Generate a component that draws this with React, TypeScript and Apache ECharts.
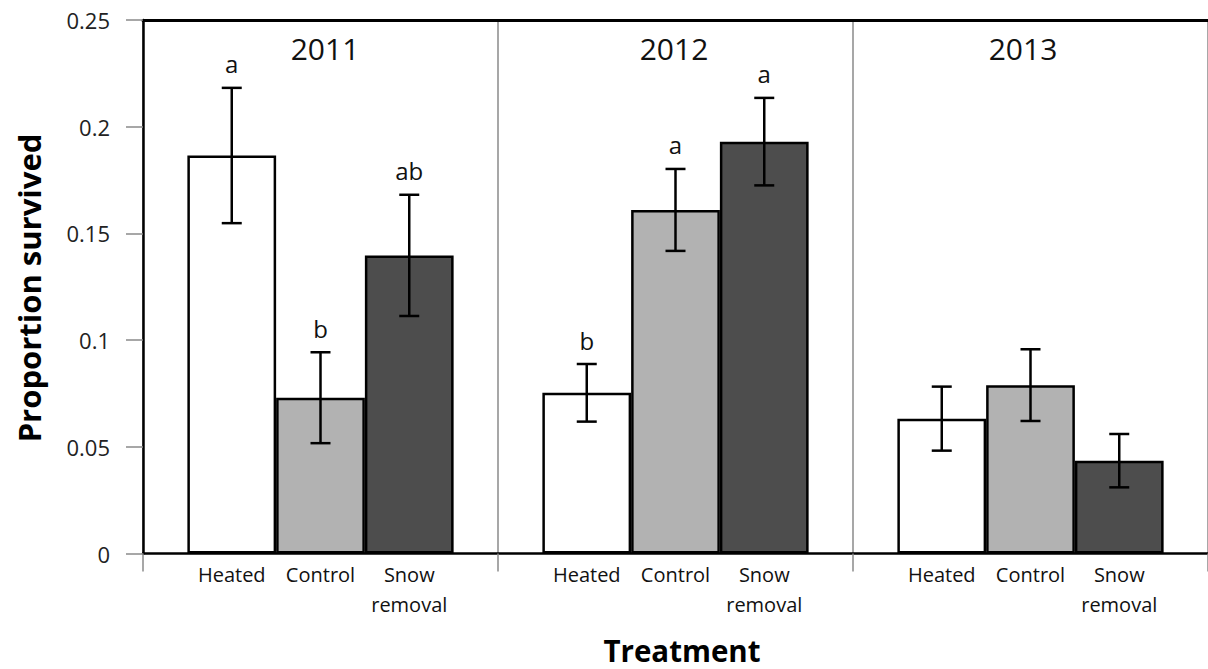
import React, { useEffect, useRef } from "react";
import * as echarts from "echarts";

// Survival by year and treatment (mean ± SE) with significance letters
const years = ["2011", "2012", "2013"];
const treatments = ["Heated", "Control", "Snow removal"];
const treatmentLabels = ["Heated", "Control", "Snow\nremoval"];

const heated = [0.1865, 0.0753, 0.0632];
const control = [0.073, 0.161, 0.0789];
const snowRemoval = [0.1397, 0.193, 0.0435];

const heatedErr = [0.0317, 0.0135, 0.015];
const controlErr = [0.0213, 0.0192, 0.0168];
const snowRemovalErr = [0.0284, 0.0205, 0.0125];

const heatedLetters = ["a", "b", ""];
const controlLetters = ["b", "a", ""];
const snowRemovalLetters = ["ab", "a", ""];

const yTicks = { min: 0, max: 0.25, interval: 0.05 };

const FONT = "'Open Sans', 'Noto Sans', sans-serif";
const barColors = ["#ffffff", "#b2b2b2", "#4d4d4d"];

export default function App() {
  const ref = useRef<HTMLDivElement>(null);

  useEffect(() => {
    if (!ref.current) return;
    const chart = echarts.init(ref.current, null, { renderer: "svg" });

    const means = [heated, control, snowRemoval];
    const errs = [heatedErr, controlErr, snowRemovalErr];
    const letters = [heatedLetters, controlLetters, snowRemovalLetters];

    // one item per bar: [category index, treatment index, mean, error]
    const errorData: number[][] = [];
    const errorLetters: string[] = [];
    for (let c = 0; c < years.length; c++) {
      for (let s = 0; s < treatments.length; s++) {
        errorData.push([c, s, means[s][c], errs[s][c]]);
        errorLetters.push(letters[s][c]);
      }
    }

    const categoryGap = 0.25;

    const barSeries = treatments.map((name, s) => ({
      type: "bar",
      name,
      xAxisIndex: 0,
      data: means[s],
      barGap: "0%",
      barCategoryGap: "25%",
      itemStyle: {
        color: barColors[s],
        borderColor: "#000",
        borderWidth: 2.5,
      },
      label: {
        show: true,
        position: "bottom",
        distance: 6,
        formatter: () => treatmentLabels[s],
        fontFamily: FONT,
        fontSize: 20,
        lineHeight: 30,
        color: "#111",
        align: "center",
      },
      z: 2,
    }));

    const yearText = (i: number, x: number) => ({
      type: "text",
      x,
      y: 48,
      style: {
        text: years[i],
        fontFamily: FONT,
        fontSize: 30,
        fill: "#111",
        align: "center",
        verticalAlign: "middle",
      },
    });

    chart.setOption({
      animation: false,
      backgroundColor: "#ffffff",
      grid: { left: 143, right: -3, top: 20, bottom: 115.5 },
      xAxis: [
        {
          type: "category",
          data: years,
          position: "bottom",
          axisLine: { show: true, lineStyle: { color: "#000", width: 2.5 } },
          axisTick: { show: true, length: 18, lineStyle: { color: "#8a8a8a", width: 1.5 } },
          axisLabel: { show: false },
          splitLine: { show: true, lineStyle: { color: "#8a8a8a", width: 1.5 } },
        },
        {
          type: "category",
          data: years,
          position: "top",
          axisLine: { show: true, lineStyle: { color: "#000", width: 3 } },
          axisTick: { show: false },
          axisLabel: { show: false },
          splitLine: { show: false },
        },
      ],
      yAxis: {
        type: "value",
        min: yTicks.min,
        max: yTicks.max,
        interval: yTicks.interval,
        axisLine: { show: true, lineStyle: { color: "#000", width: 2.5 } },
        axisTick: { show: true, length: 17, lineStyle: { color: "#8a8a8a", width: 1.5 } },
        axisLabel: {
          margin: 33,
          fontFamily: FONT,
          fontSize: 22,
          color: "#222",
        },
        splitLine: { show: false },
      },
      series: [
        ...barSeries,
        {
          type: "custom",
          xAxisIndex: 0,
          data: errorData,
          encode: { x: 0, y: 2 },
          z: 5,
          renderItem: (params: any, api: any) => {
            const c = api.value(0);
            const s = api.value(1);
            const mean = api.value(2);
            const err = api.value(3);
            const band = api.size([1, 0])[0];
            const barW = (band * (1 - categoryGap)) / treatments.length;
            const center = api.coord([c, 0])[0];
            const x = center - (band * (1 - categoryGap)) / 2 + barW * (s + 0.5);
            const yTop = api.coord([c, mean + err])[1];
            const yBot = api.coord([c, mean - err])[1];
            const cap = 10;
            const stroke = { stroke: "#000", lineWidth: 2.5 };
            const children: any[] = [
              { type: "line", shape: { x1: x, y1: yTop, x2: x, y2: yBot }, style: stroke },
              { type: "line", shape: { x1: x - cap, y1: yTop, x2: x + cap, y2: yTop }, style: stroke },
              { type: "line", shape: { x1: x - cap, y1: yBot, x2: x + cap, y2: yBot }, style: stroke },
            ];
            const letter = errorLetters[params.dataIndex];
            if (letter) {
              children.push({
                type: "text",
                x,
                y: yTop - 12,
                style: {
                  text: letter,
                  fontFamily: FONT,
                  fontSize: 24,
                  fill: "#111",
                  align: "center",
                  verticalAlign: "bottom",
                },
              });
            }
            return { type: "group", children };
          },
        },
      ],
      graphic: [
        yearText(0, 325),
        yearText(1, 674),
        yearText(2, 1023),
        {
          type: "text",
          x: 682,
          y: 650,
          style: {
            text: "Treatment",
            fontFamily: FONT,
            fontWeight: "bold",
            fontSize: 29.5,
            fill: "#000",
            align: "center",
            verticalAlign: "middle",
          },
        },
        {
          type: "text",
          x: 29,
          y: 288,
          rotation: Math.PI / 2,
          style: {
            text: "Proportion survived",
            fontFamily: FONT,
            fontWeight: "bold",
            fontSize: 31,
            fill: "#000",
            align: "center",
            verticalAlign: "middle",
          },
        },
      ],
    });

    return () => chart.dispose();
  }, []);

  return (
    <div
      ref={ref}
      style={{ position: "fixed", left: 0, top: 0, width: 1208, height: 669, background: "#fff" }}
    />
  );
}
